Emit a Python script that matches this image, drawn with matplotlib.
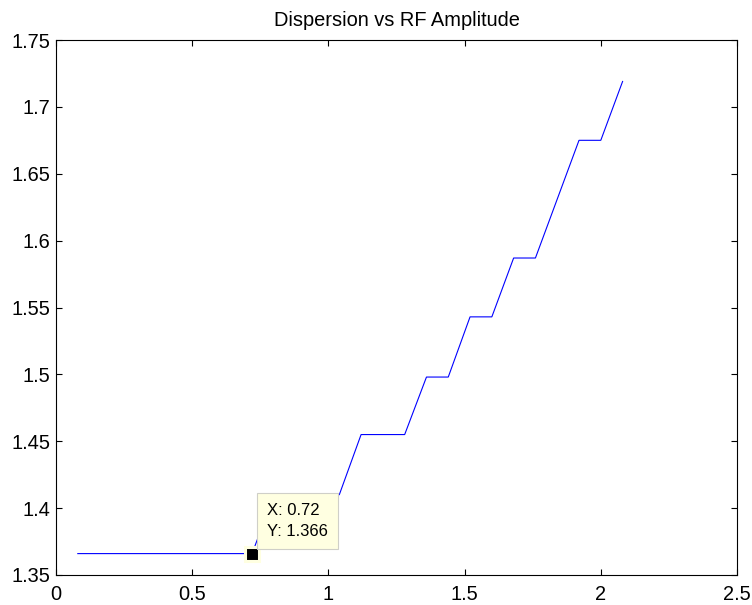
import matplotlib
matplotlib.use("Agg")
import matplotlib.pyplot as plt

plt.rcParams['font.family'] = ['Liberation Sans', 'DejaVu Sans']

# ----------------------------
# データ
# ----------------------------
rf_amplitude = [0.08, 0.16, 0.24, 0.32, 0.40, 0.48, 0.56, 0.64, 0.72,
                0.80, 0.88, 0.96, 1.04, 1.12, 1.20, 1.28, 1.36, 1.44,
                1.52, 1.60, 1.68, 1.76, 1.84, 1.92, 2.00, 2.08]
dispersion = [1.366, 1.366, 1.366, 1.366, 1.366, 1.366, 1.366, 1.366, 1.366,
              1.410, 1.410, 1.410, 1.410, 1.455, 1.455, 1.455, 1.498, 1.498,
              1.543, 1.543, 1.587, 1.587, 1.631, 1.675, 1.675, 1.719]

# データチップの位置
tip_x = 0.72
tip_y = 1.366

xticks = [0, 0.5, 1, 1.5, 2, 2.5]
yticks = [1.35, 1.4, 1.45, 1.5, 1.55, 1.6, 1.65, 1.7, 1.75]

# ----------------------------
# 描画
# ----------------------------
fig = plt.figure(figsize=(7.52, 6.05), dpi=100)
ax = fig.add_axes([56 / 752, 30 / 605, 681 / 752, 535 / 605])

ax.plot(rf_amplitude, dispersion, color="blue", linewidth=0.8)

# データチップ（MATLAB風）
ax.plot(tip_x, tip_y, marker="s", markersize=10, color="black",
        markeredgecolor="#FFFFE1", markeredgewidth=2.2, linestyle="none", zorder=5)
ax.annotate(f"X: {tip_x}\nY: {tip_y}", xy=(tip_x, tip_y),
            xytext=(15, 15), textcoords="offset pixels",
            ha="left", va="bottom", fontsize=12, linespacing=1.45,
            bbox=dict(boxstyle="square,pad=0.6", fc="#FFFFE1", ec="#CFCFC8", lw=0.8),
            zorder=6)

ax.set_xlim(0, 2.5)
ax.set_ylim(1.35, 1.75)
ax.set_xticks(xticks)
ax.set_xticklabels(["0", "0.5", "1", "1.5", "2", "2.5"])
ax.set_yticks(yticks)
ax.set_yticklabels(["1.35", "1.4", "1.45", "1.5", "1.55", "1.6", "1.65", "1.7", "1.75"])

ax.tick_params(direction="in", length=4, width=0.8, top=True, right=True,
               labelsize=14.4)
ax.tick_params(axis="x", pad=7)
ax.tick_params(axis="y", pad=4)
for spine in ax.spines.values():
    spine.set_linewidth(0.8)

ax.set_title("Dispersion vs RF Amplitude", fontsize=14.4, pad=10)

fig.savefig("out.png", dpi=100)
